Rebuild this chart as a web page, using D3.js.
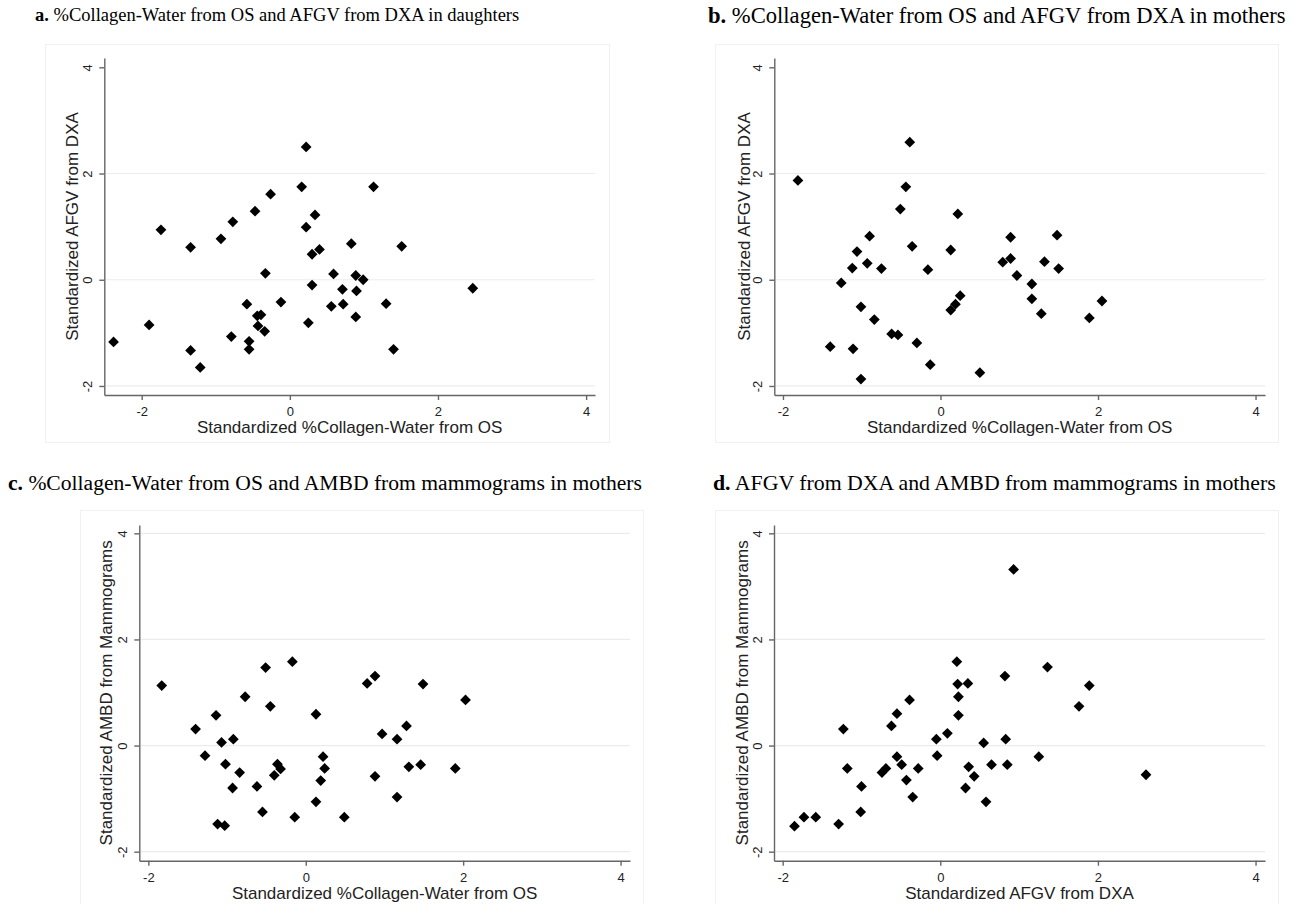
<!DOCTYPE html>
<html>
<head>
<meta charset="utf-8">
<script src="https://cdn.jsdelivr.net/npm/d3@7"></script>
<style>
  body { margin: 0; background: white; }
  .title { font-family: "Liberation Serif", "Times New Roman", serif; fill: #000; }
  .title .lbl { font-weight: bold; }
  .axis-title { font-family: "Liberation Sans", Arial, sans-serif; font-size: 17px; fill: #222; }
  .axis text { font-family: "Liberation Sans", Arial, sans-serif; font-size: 13px; fill: #222; }
  .axis path, .axis line { stroke: #666; stroke-width: 1.4px; }
  .grid line { stroke: #ececec; stroke-width: 1.2px; }
  .panel-box { fill: none; stroke: #f1f1f1; stroke-width: 1px; }
</style>
</head>
<body>
<div id="chart"></div>
<script>
// a. daughters: %Collagen-Water (OS) vs AFGV (DXA)
const aCollagen = [-2.38,-1.90,-1.74,-1.34,-1.34,-1.21,-0.93,-0.77,-0.79,-0.55,-0.55,-0.58,-0.47,-0.26,-0.33,
  -0.44,-0.39,-0.43,-0.34,-0.12,0.16,0.22,0.22,0.34,0.30,0.40,0.30,0.25,0.59,1.13,0.83,1.51,0.89,0.99,0.71,
  0.90,2.47,0.56,0.72,1.30,0.89,1.40];
const aAFGV = [-1.17,-0.85,0.94,0.61,-1.33,-1.65,0.77,1.09,-1.07,-1.16,-1.31,-0.46,1.29,1.61,0.12,
  -0.68,-0.66,-0.87,-0.97,-0.42,1.75,2.50,0.99,1.22,0.48,0.57,-0.10,-0.81,0.11,1.75,0.68,0.63,0.08,0.00,-0.18,
  -0.21,-0.16,-0.50,-0.46,-0.45,-0.70,-1.31];

// b. mothers: %Collagen-Water (OS) vs AFGV (DXA)
const bCollagen = [-1.81,-1.40,-1.26,-1.12,-1.06,-1.11,-1.01,-1.01,-0.93,-0.90,-0.84,-0.75,-0.62,-0.54,-0.51,
  -0.44,-0.39,-0.36,-0.30,-0.16,-0.13,0.13,0.22,0.13,0.19,0.25,0.50,0.79,0.89,0.89,0.97,1.16,1.16,1.28,1.32,
  1.48,1.50,1.89,2.05];
const bAFGV = [1.87,-1.26,-0.06,0.22,0.53,-1.30,-0.51,-1.87,0.31,0.82,-0.75,0.21,-1.02,-1.04,1.33,
  1.75,2.59,0.63,-1.19,0.19,-1.60,0.56,1.24,-0.57,-0.46,-0.30,-1.75,0.33,0.40,0.80,0.08,-0.08,-0.36,-0.64,0.34,
  0.84,0.21,-0.72,-0.40];

// c. mothers: %Collagen-Water (OS) vs AMBD (mammograms)
const cCollagen = [-1.83,-1.40,-1.28,-1.14,-1.07,-1.02,-0.92,-1.12,-1.03,-0.93,-0.84,-0.77,-0.62,-0.55,-0.51,
  -0.45,-0.40,-0.36,-0.32,-0.17,-0.14,0.13,0.13,0.22,0.24,0.19,0.49,0.78,0.88,1.49,2.03,0.97,1.16,1.28,1.31,
  1.46,1.90,0.88,1.16];
const cAMBD = [1.13,0.31,-0.19,0.57,0.06,-0.35,0.12,-1.48,-1.51,-0.80,-0.51,0.92,-0.77,-1.25,1.47,
  0.74,-0.56,-0.35,-0.44,1.58,-1.35,0.59,-1.06,-0.21,-0.43,-0.66,-1.35,1.17,1.31,1.16,0.86,0.22,0.12,0.37,-0.40,
  -0.36,-0.43,-0.58,-0.97];

// d. mothers: AFGV (DXA) vs AMBD (mammograms)
const dAFGV = [-1.85,-1.73,-1.58,-1.29,-1.23,-1.18,-1.01,-1.00,-0.74,-0.69,-0.62,-0.55,-0.55,-0.49,-0.43,
  -0.39,-0.35,-0.28,-0.05,-0.04,0.09,0.21,0.22,0.23,0.23,0.35,0.36,0.32,0.43,0.55,0.58,0.65,0.82,0.83,0.85,
  0.93,1.36,1.89,1.76,1.25,2.61];
const dAMBD = [-1.52,-1.35,-1.35,-1.48,0.31,-0.43,-1.25,-0.77,-0.51,-0.43,0.37,0.60,-0.21,-0.36,-0.65,
  0.86,-0.97,-0.43,0.12,-0.19,0.23,1.58,1.16,0.92,0.57,1.17,-0.40,-0.80,-0.58,0.05,-1.06,-0.36,1.31,0.12,-0.36,
  3.32,1.48,1.13,0.74,-0.21,-0.55];

const tickValues = [-2, 0, 2, 4];

const panels = [
  { key: "a.", title: " %Collagen-Water from OS and AFGV from DXA in daughters",
    xs: aCollagen, ys: aAFGV,
    xLabel: "Standardized %Collagen-Water from OS", yLabel: "Standardized AFGV from DXA",
    box: [45, 44, 609, 442], titlePos: [35, 21], titleSize: 18.5,
    plot: {x0: 104.3, x1: 595, y0: 58, y1: 395}, xDom: [-2.505, 4.12], yDom: [-2.17, 4.175],
    yTitleOff: 32, grid4: false },
  { key: "b.", title: " %Collagen-Water from OS and AFGV from DXA in mothers",
    xs: bCollagen, ys: bAFGV,
    xLabel: "Standardized %Collagen-Water from OS", yLabel: "Standardized AFGV from DXA",
    box: [715, 44, 1278, 442], titlePos: [708, 23], titleSize: 22.6,
    plot: {x0: 774.3, x1: 1265, y0: 58, y1: 395}, xDom: [-2.11, 4.12], yDom: [-2.17, 4.175],
    yTitleOff: 30, grid4: false },
  { key: "c.", title: " %Collagen-Water from OS and AMBD from mammograms in mothers",
    xs: cCollagen, ys: cAMBD,
    xLabel: "Standardized %Collagen-Water from OS", yLabel: "Standardized AMBD from Mammograms",
    box: [80, 510, 643, 904], titlePos: [8, 490], titleSize: 21.6,
    plot: {x0: 139.3, x1: 630, y0: 525, y1: 860.7}, xDom: [-2.115, 4.12], yDom: [-2.17, 4.157],
    yTitleOff: 33, grid4: true },
  { key: "d.", title: " AFGV from DXA and AMBD from mammograms in mothers",
    xs: dAFGV, ys: dAMBD,
    xLabel: "Standardized AFGV from DXA", yLabel: "Standardized AMBD from Mammograms",
    box: [715, 510, 1278, 904], titlePos: [713, 490], titleSize: 21.8,
    plot: {x0: 774, x1: 1265, y0: 525, y1: 860.7}, xDom: [-2.11, 4.12], yDom: [-2.17, 4.157],
    yTitleOff: 32, grid4: true }
];

let svg = d3.select("#chart").append("svg")
  .attr("width", 1293)
  .attr("height", 904);

svg.append("rect").attr("width", "100%").attr("height", "100%").attr("fill", "white");

let diamond = d3.symbol().type(d3.symbolSquare).size(58);

panels.forEach(function(p) {
  let g = svg.append("g");

  // faint outer graph region
  g.append("rect")
    .attr("class", "panel-box")
    .attr("x", p.box[0] + 0.5).attr("y", p.box[1] + 0.5)
    .attr("width", p.box[2] - p.box[0]).attr("height", p.box[3] - p.box[1]);

  let x = d3.scaleLinear().domain(p.xDom).range([p.plot.x0, p.plot.x1]);
  let y = d3.scaleLinear().domain(p.yDom).range([p.plot.y1, p.plot.y0]);

  // horizontal grid lines
  let gridVals = p.grid4 ? tickValues : tickValues.filter(function(v) { return v < 4; });
  g.append("g").attr("class", "grid")
    .selectAll("line").data(gridVals).enter().append("line")
      .attr("x1", p.plot.x0 + 1).attr("x2", p.plot.x1)
      .attr("y1", function(d) { return y(d); })
      .attr("y2", function(d) { return y(d); });

  // axes
  g.append("g")
    .attr("class", "axis axis--x")
    .attr("transform", "translate(0," + p.plot.y1 + ")")
    .call(d3.axisBottom(x).tickValues(tickValues).tickSize(5).tickSizeOuter(0).tickPadding(7)
      .tickFormat(function(d) { return String(d); }));

  let yAxis = g.append("g")
    .attr("class", "axis axis--y")
    .attr("transform", "translate(" + p.plot.x0 + ",0)")
    .call(d3.axisLeft(y).tickValues(tickValues).tickSize(5).tickSizeOuter(0)
      .tickFormat(function(d) { return String(d); }));
  yAxis.selectAll(".tick text")
    .attr("transform", "rotate(-90)")
    .attr("x", 0).attr("y", -12).attr("dy", 0)
    .attr("text-anchor", "middle");

  // axis titles
  g.append("text")
    .attr("class", "axis-title")
    .attr("text-anchor", "middle")
    .attr("x", (p.plot.x0 + p.plot.x1) / 2)
    .attr("y", p.plot.y1 + 38)
    .text(p.xLabel);

  g.append("text")
    .attr("class", "axis-title")
    .attr("text-anchor", "middle")
    .attr("dy", "0.35em")
    .attr("transform", "translate(" + (p.plot.x0 - p.yTitleOff) + "," + ((p.plot.y0 + p.plot.y1) / 2) + ")rotate(-90)")
    .text(p.yLabel);

  // points
  let pts = p.xs.map(function(v, i) { return {x: v, y: p.ys[i]}; });
  g.selectAll(".pt")
    .data(pts)
    .enter().append("path")
      .attr("class", "pt")
      .attr("d", diamond)
      .attr("fill", "#000")
      .attr("transform", function(d) { return "translate(" + x(d.x) + "," + y(d.y) + ")rotate(45)"; });

  // panel title
  let t = svg.append("text")
    .attr("class", "title")
    .attr("font-size", p.titleSize + "px")
    .attr("x", p.titlePos[0])
    .attr("y", p.titlePos[1]);
  t.append("tspan").attr("class", "lbl").text(p.key);
  t.append("tspan").text(p.title);
});
</script>
</body>
</html>
